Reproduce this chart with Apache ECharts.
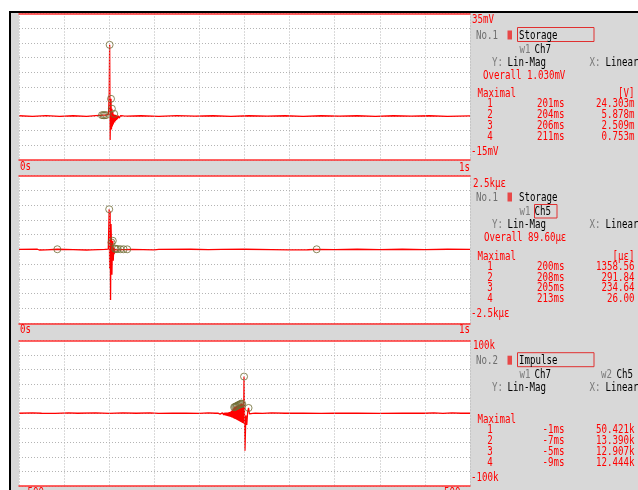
<!DOCTYPE html>
<html><head><meta charset="utf-8">
<script src="https://cdn.jsdelivr.net/npm/echarts@6/dist/echarts.min.js"></script>
<style>html,body{margin:0;padding:0;background:#d8d8d8;}#c{width:638px;height:490px;}</style>
</head><body><div id="c"></div>
<script>
// ---------- data ----------
// Panel 1: Storage, Ch7 (time ms, mV)
const ch7Wave = [
[0,0.1],[30,-0.1],[60,0.15],[90,-0.1],[120,0.1],[150,-0.1],[170,0.15],[180,0.25],[184,0.3],[187,0.3],[190,0.3],[193,0.3],[196,0.2],[198,0.6],[199,2.5],[200,7.9],[201,24.3],[202,-8.2],[203,3.0],[204,5.88],[205,-4.6],[206,2.51],[207,-3.6],[208,1.5],[209,-2.9],[210,0.6],[211,0.75],[212,-2.2],[213,0.4],[214,-1.7],[215,0.3],[216,-1.3],[217,0.2],[218,-1.0],[220,0.1],[222,-0.7],[225,0.1],[228,-0.4],[232,0.05],[236,-0.2],[240,0],[270,0.1],[310,-0.1],[350,0.15],[390,-0.05],[430,0.1],[470,-0.1],[510,0.1],[550,-0.05],[590,0.1],[630,-0.1],[670,0.1],[710,-0.05],[750,0.1],[790,-0.1],[830,0.1],[870,-0.05],[910,0.1],[950,-0.1],[1000,0.05]
];
const ch7Peaks = [[201,24.303],[204,5.878],[206,2.509],[211,0.753],[184,0.3],[187,0.3],[190,0.3],[193,0.3]];
// Panel 2: Storage, Ch5 (time ms, micro-strain)
const ch5Wave = [
[0,0],[40,6],[45,-20],[60,-15],[85,5],[120,-5],[150,-20],[160,-15],[190,0],[198,10],[199,40],[200,1358.56],[201,-650],[202,1290],[203,-1710],[204,860],[205,234.64],[206,-860],[207,110],[208,291.84],[209,-380],[210,60],[211,-160],[212,8],[213,26],[214,-45],[215,10],[217,-20],[219,12],[222,-14],[225,8],[228,-8],[232,5],[236,-5],[240,3],[250,0],[300,-15],[310,0],[380,5],[420,-10],[450,0],[500,5],[560,-5],[600,-15],[640,-12],[660,4],[700,-5],[750,5],[800,-5],[850,5],[900,-5],[950,5],[1000,0]
];
const ch5Peaks = [[200,1358.56],[208,291.84],[205,234.64],[213,26],[85,5],[215,10],[219,12],[225,8],[232,5],[240,3],[660,4]];
// Panel 3: Impulse (lag ms, value)
const impWave = [
[-500,0],[-470,500],[-450,0],[-420,-300],[-390,600],[-370,0],[-330,400],[-300,-300],[-270,500],[-240,0],[-210,600],[-190,-200],[-160,300],[-130,0],[-100,-300],[-80,400],[-65,0],[-61,200],
[-60,-300],[-59,200],[-58,-600],[-57,300],[-56,-900],[-55,300],[-54,-1200],[-53,400],[-52,-1500],[-51,400],[-50,-1800],[-49,500],[-48,-2100],[-47,500],[-46,-2400],[-45,600],[-44,-2700],[-43,700],[-42,-3000],[-41,800],[-40,-3300],[-39,900],[-38,-3700],[-37,1000],[-36,-4000],[-35,1200],[-34,-4400],[-33,1500],[-32,-4800],[-31,2000],[-30,-5200],[-29,3000],[-28,-5700],[-27,4500],[-26,-6200],[-25,6500],[-24,-6800],[-23,8200],[-22,-7400],[-21,8800],[-20,-8000],[-19,9400],[-18,-8600],[-17,10000],[-16,-9200],[-15,10700],[-14,-9900],[-13,11300],[-12,-10600],[-11,11900],[-10,-11300],[-9,12444],[-8,-12000],[-7,13390],[-6,-12700],[-5,12907],[-4,-13400],[-3,9000],[-2,-14000],
[-1,50421],[1,-51600],[3,-3000],[5,-16000],[7,2000],[9,7300],[11,-1000],[14,500],[18,-300],[24,0],
[40,-300],[60,400],[90,0],[130,300],[170,-200],[200,300],[250,0],[300,-200],[350,300],[400,0],[420,600],[440,-300],[460,500],[480,0],[500,0]
];
const impPeaks = [[-1,50421],[-7,13390],[-5,12907],[-9,12444],[-11,11900],[-13,11300],[-15,10700],[-17,10000],[-19,9400],[-21,8800],[-23,8200],[9,7300]];

// axis tick labels
const p1YLabels = ['35mV','-15mV'];
const p2YLabels = ['2.5k\u03bc\u03b5','-2.5k\u03bc\u03b5'];
const p3YLabels = ['100k','-100k'];
const timeLabels = ['0s','1s'];
const lagLabels = ['-500','500'];

// side-panel tables
const rankLabels = ['1','2','3','4'];
const ch7MaxTime = ['201ms','204ms','206ms','211ms'];
const ch7MaxVal  = ['24.303m','5.878m','2.509m','0.753m'];
const ch5MaxTime = ['200ms','208ms','205ms','213ms'];
const ch5MaxVal  = ['1358.56','291.84','234.64','26.00'];
const impMaxTime = ['-1ms','-7ms','-5ms','-9ms'];
const impMaxVal  = ['50.421k','13.390k','12.907k','12.444k'];
const overallCh7 = 'Overall 1.030mV';
const overallCh5 = 'Overall 89.60\u03bc\u03b5';

// ---------- chart ----------
const RED = '#ff0000';
const GRAY = '#6e6e6e';
const FONT = '12px "DejaVu Sans Mono"';
function txt(x, y, s, color, align) {
  align = align || 'left';
  return {type:'text', x:x, y:y, scaleX:0.76, silent:true, z:10,
    style:{text:s, fill:color, font:FONT, align:align, verticalAlign:'middle', textAlign:align, textVerticalAlign:'middle'}};
}
function rect(x, y, w, h, fill, stroke) {
  return {type:'rect', silent:true, z:9, shape:{x:x, y:y, width:w, height:h},
    style:{fill:fill || 'none', stroke:stroke || null, lineWidth:1}};
}

const grids = [
  {left:19, top:13.5, width:451, height:146.5},
  {left:19, top:175.5, width:451, height:147.8},
  {left:19, top:340.5, width:451, height:145.5}
].map(g => Object.assign(g, {show:true, backgroundColor:'#ffffff', borderWidth:0, containLabel:false}));

const xRanges = [[0,1000,100],[0,1000,100],[-500,500,100]];
const yRanges = [[-15,35,5],[-2500,2500,500],[-100000,100000,20000]];
const dotted = {show:true, lineStyle:{color:'#b4b4b4', width:1, type:[1,2]}};
const redLine = {show:true, onZero:false, lineStyle:{color:'#ff3030', width:1.5}};

const xAxis = [];
xRanges.forEach((r,i) => xAxis.push({gridIndex:i, type:'value', min:r[0], max:r[1], interval:r[2], position:'bottom', z:5,
  axisLine:redLine, axisTick:{show:false}, axisLabel:{show:false}, splitLine:dotted}));
xRanges.forEach((r,i) => xAxis.push({gridIndex:i, type:'value', min:r[0], max:r[1], interval:r[2], position:'top', z:5,
  axisLine:redLine, axisTick:{show:false}, axisLabel:{show:false}, splitLine:{show:false}}));
const yAxis = yRanges.map((r,i) => ({gridIndex:i, type:'value', min:r[0], max:r[1], interval:r[2],
  axisLine:{show:false}, axisTick:{show:false}, axisLabel:{show:false}, splitLine:dotted}));

const waves = [ch7Wave, ch5Wave, impWave];
const peaks = [ch7Peaks, ch5Peaks, impPeaks];
const series = [];
waves.forEach((w,i) => series.push({type:'line', xAxisIndex:i, yAxisIndex:i, data:w, showSymbol:false, symbol:'none',
  lineStyle:{color:RED, width:1.3}, z:2, silent:true}));
peaks.forEach((p,i) => series.push({type:'scatter', xAxisIndex:i, yAxisIndex:i, data:p, symbol:'circle', symbolSize:7,
  itemStyle:{color:'rgba(0,0,0,0)', borderColor:'#6f6b33', borderWidth:1}, z:3, silent:true}));

const g = [];
// frame
g.push(rect(0,0,638,11,'#ffffff'));
g.push(rect(0,0,9,490,'#ffffff'));
g.push(rect(9,11,629,2,'#000000'));
g.push(rect(9,11,2,479,'#000000'));
// axis end labels
g.push(txt(472,20,p1YLabels[0],RED)); g.push(txt(471,152,p1YLabels[1],RED));
g.push(txt(473,183.5,p2YLabels[0],RED)); g.push(txt(471,314,p2YLabels[1],RED));
g.push(txt(473,346,p3YLabels[0],RED)); g.push(txt(471,478,p3YLabels[1],RED));
g.push(txt(20,167,timeLabels[0],RED)); g.push(txt(470,167.5,timeLabels[1],RED,'right'));
g.push(txt(20,330,timeLabels[0],RED)); g.push(txt(470,330,timeLabels[1],RED,'right'));
g.push(txt(22,493,lagLabels[0],RED)); g.push(txt(444,493,lagLabels[1],RED));

function header(y0, no, mode, boxMode, w1ch, w2ch, boxCh) {
  g.push(txt(476,y0,no,GRAY));
  g.push(rect(507.5,y0-5,4.5,9,'#e84848'));
  g.push(txt(519,y0,mode,'#000'));
  if (boxMode) g.push(rect(517.5,y0-8,76.5,14,null,'#e03030'));
  g.push(txt(519.5,y0+14,'w1','#7a7a7a'));
  g.push(txt(534.5,y0+14,w1ch,'#000'));
  if (boxCh) g.push(rect(534.5,y0+7,22.5,13.5,null,'#e03030'));
  if (w2ch) { g.push(txt(601,y0+14,'w2','#7a7a7a')); g.push(txt(616.5,y0+14,w2ch,'#000')); }
  g.push(txt(492,y0+27,'Y:','#7a7a7a')); g.push(txt(507.5,y0+27,'Lin-Mag','#000'));
  g.push(txt(589.5,y0+27,'X:','#7a7a7a')); g.push(txt(605.5,y0+27,'Linear','#000'));
}
function table(yM, unit, times, vals, rowY) {
  g.push(txt(477.5,yM,'Maximal',RED));
  if (unit) g.push(txt(634.5,yM,unit,RED,'right'));
  for (let k=0;k<4;k++) {
    const y = yM + rowY[k];
    g.push(txt(490,y,rankLabels[k],RED,'center'));
    g.push(txt(564.5,y,times[k],RED,'right'));
    g.push(txt(634.5,y,vals[k],RED,'right'));
  }
}
header(35.5,'No.1','Storage',true,'Ch7',null,false);
g.push(txt(483,76,overallCh7,RED));
table(94.3,'[V]',ch7MaxTime,ch7MaxVal,[10,20.7,31.7,42.4]);

header(197.5,'No.1','Storage',false,'Ch5',null,true);
g.push(txt(484,238.3,overallCh5,RED));
table(257.3,'[\u03bc\u03b5]',ch5MaxTime,ch5MaxVal,[10,20.4,31,41.7]);

header(360.7,'No.2','Impulse',true,'Ch7','Ch5',false);
table(420,null,impMaxTime,impMaxVal,[10,20.7,31.7,42.7]);

const chart = echarts.init(document.getElementById('c'), null, {renderer:'canvas'});
chart.setOption({
  animation:false,
  backgroundColor:'#d8d8d8',
  grid:grids, xAxis:xAxis, yAxis:yAxis, series:series,
  graphic:{elements:g}
});
</script></body></html>
